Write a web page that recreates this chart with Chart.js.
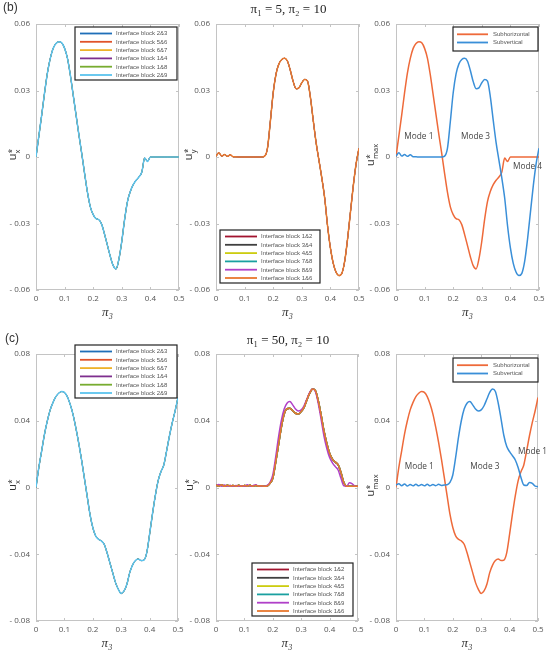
<!DOCTYPE html>
<html><head><meta charset="utf-8">
<script src="https://cdn.jsdelivr.net/npm/chart.js@4.4.1/dist/chart.umd.min.js"></script>
<style>
html,body{margin:0;padding:0;background:#fff;}
#wrap{position:relative;width:550px;height:652px;overflow:hidden;background:#fff;}
#wrap canvas{position:absolute;}
</style></head><body><div id="wrap"></div>
<script>
// ---------------- DATA ----------------
const pi3 = [0,0.01,0.02,0.03,0.04,0.05,0.06,0.07,0.08,0.09,
  0.10,0.11,0.12,0.13,0.14,0.15,0.16,0.17,0.18,0.19,
  0.20,0.21,0.22,0.23,0.24,0.25,0.26,0.27,0.28,0.29,
  0.30,0.31,0.32,0.33,0.34,0.35,0.36,0.37,0.38,0.39,
  0.40,0.41,0.42,0.43,0.44,0.45,0.46,0.47,0.48,0.49,0.50];
const xTicks = [0,0.1,0.2,0.3,0.4,0.5];
const yTicksB = [-0.06,-0.03,0,0.03,0.06];
const yTicksC = [-0.08,-0.04,0,0.04,0.08];

// (b) pi1 = 5, pi2 = 10
const uxPi5 = [0,0.0095,0.019,0.029,0.038,0.0445,0.049,0.0512,0.052,0.0515,
  0.049,0.0445,0.037,0.028,0.019,0.010,0.0015,-0.0075,-0.016,-0.0225,
  -0.026,-0.0278,-0.0283,-0.0305,-0.035,-0.040,-0.045,-0.049,-0.0505,-0.046,
  -0.038,-0.028,-0.020,-0.0155,-0.0125,-0.0105,-0.009,-0.0068,-0.0005,-0.002,
  0,0,0,0,0,0,0,0,0,0,0];
const uyPi5 = [0.0003,0.0019,0.0004,0.0011,0.0003,0.0010,0.0001,0.0001,0,0,
  0,0,0,0,0,0,0,0.0004,0.004,0.016,
  0.029,0.0375,0.042,0.0440,0.0445,0.0432,0.039,0.034,0.0308,0.0312,
  0.0335,0.0350,0.0342,0.027,0.0165,0.0065,-0.0015,-0.0095,-0.0185,-0.031,
  -0.041,-0.048,-0.052,-0.0535,-0.0525,-0.047,-0.037,-0.025,-0.013,-0.003,0.004];

// (c) pi1 = 50, pi2 = 10
const uxPi50 = [0,0.012,0.022,0.032,0.040,0.0465,0.051,0.0545,0.0565,0.0575,
  0.057,0.0545,0.050,0.044,0.036,0.027,0.017,0.006,-0.005,-0.016,
  -0.024,-0.029,-0.031,-0.032,-0.034,-0.039,-0.045,-0.051,-0.057,-0.061,
  -0.0635,-0.062,-0.058,-0.051,-0.0465,-0.0438,-0.0428,-0.0438,-0.0435,-0.039,
  -0.028,-0.016,-0.005,0.004,0.0095,0.0135,0.022,0.031,0.039,0.046,0.054];
const uyPi50 = [0.0015,0.0008,0.0016,0.0007,0.0014,0.0008,0.0012,0.0007,0.0013,0.0007,
  0.0012,0.0008,0.0013,0.0007,0.0012,0.0008,0.0010,0.0007,0.0009,0.0025,
  0.0055,0.015,0.0255,0.036,0.044,0.0472,0.0475,0.046,0.0445,0.044,
  0.0455,0.048,0.0525,0.0565,0.059,0.058,0.052,0.0435,0.034,0.0265,
  0.0205,0.017,0.0152,0.0135,0.009,0.003,0.0008,0.0008,0.0008,0.0008,0.0008];
const uyPi50b = [0.0012,0.0018,0.0008,0.0015,0.0008,0.0013,0.0007,0.0012,0.0008,0.0011,
  0.0007,0.0016,0.0008,0.0011,0.0017,0.0007,0.0009,0.0008,0.0012,0.003,
  0.0075,0.018,0.030,0.040,0.047,0.0505,0.0515,0.0495,0.047,0.0458,
  0.0465,0.049,0.053,0.057,0.059,0.0575,0.0505,0.041,0.031,0.0235,
  0.018,0.0148,0.0125,0.0105,0.0055,0.001,0.0008,0.0028,0.0022,0.0008,0.0008];
const uyMaxPi50 = [0.0015,0.0022,0.0010,0.0021,0.0009,0.0018,0.0010,0.0019,0.0010,0.0018,
  0.0010,0.0019,0.0010,0.0018,0.0011,0.0019,0.0012,0.0015,0.0016,0.003,
  0.0075,0.018,0.030,0.040,0.047,0.0505,0.0515,0.0495,0.047,0.0458,
  0.0465,0.049,0.053,0.057,0.059,0.0575,0.0505,0.041,0.031,0.0245,
  0.0215,0.019,0.0165,0.012,0.006,0.0015,0.0012,0.003,0.0025,0.0008,0.0005];

const namesX = ['Interface block 2&3','Interface block 5&6','Interface block 6&7','Interface block 1&4','Interface block 1&8','Interface block 2&9'];
const colorsX = ['#1f6fb8','#e0532a','#eeb22a','#7e2f8e','#77ac30','#5bc3ee'];
const namesY = ['Interface block 1&2','Interface block 3&4','Interface block 4&5','Interface block 7&8','Interface block 8&9','Interface block 1&6'];
const colorsY = ['#a2142f','#404040','#cccc10','#1aa0a0','#b040c8','#e8782e'];
const namesM = ['Subhorizontal','Subvertical'];
const colorsM = ['#ee6a3a','#3a8fd8'];

const modesB = [{t:'Mode 1',x:0.08,y:0.009,a:'center'},{t:'Mode 3',x:0.278,y:0.009,a:'center'},{t:'Mode 4',x:0.409,y:-0.0045,a:'left'}];
const modesC = [{t:'Mode 1',x:0.082,y:0.0123,a:'center'},{t:'Mode 3',x:0.313,y:0.0123,a:'center'},{t:'Mode 1',x:0.4296,y:0.0213,a:'left'}];

// ---------------- DRAWING ----------------
const wrap = document.getElementById('wrap');
const TICKFONT = '"Open Sans", "Noto Sans", sans-serif';

function fmtY(v){ const r = Math.round(v*100)/100; if (r === 0) return '0'; return r < 0 ? '- ' + Math.abs(r).toFixed(2) : r.toFixed(2); }
function fmtX(v){ const r = Math.round(v*10)/10; return r === 0 ? '0' : String(r); }

function drawULabel(ctx, cx, cy, sub){
  ctx.save();
  ctx.translate(cx, cy); ctx.rotate(-Math.PI/2);
  ctx.fillStyle = '#333';
  ctx.textAlign = 'left'; ctx.textBaseline = 'alphabetic';
  ctx.font = '11.5px "Noto Sans", sans-serif';
  const wu = ctx.measureText('u').width;
  ctx.font = '7.5px "Noto Sans", sans-serif';
  const ws = ctx.measureText(sub).width;
  const x0 = -(wu + ws)/2;
  ctx.font = '11.5px "Noto Sans", sans-serif';
  ctx.fillText('u', x0, 3);
  ctx.font = '8px "Noto Sans", sans-serif';
  ctx.fillText('*', x0 + wu + 0.3, 1.5);
  ctx.font = '7.5px "Noto Sans", sans-serif';
  ctx.fillText(sub, x0 + wu, 6.5);
  ctx.restore();
}

function makePanel(p){
  const c = document.createElement('canvas');
  const w = p.R - p.L + 50, h = p.B - p.T + 60;
  const offX = p.L - 36, offY = p.T - 24;
  c.width = w; c.height = h;
  c.style.left = offX + 'px'; c.style.top = offY + 'px';
  c.style.width = w + 'px'; c.style.height = h + 'px';
  wrap.appendChild(c);
  const n = p.series.length;
  const datasets = p.series.map((s, i) => ({
    label: s.name,
    data: pi3.map((x, j) => ({x: x, y: s.values[j]})),
    borderColor: s.color,
    borderWidth: (p.thinUnder && i < n - 1) ? 1.0 : 1.5,
    pointRadius: 0,
    fill: false,
    cubicInterpolationMode: 'monotone',
    order: n - i
  }));
  const plugin = {
    id: 'deco',
    beforeDatasetsDraw(chart){
      const {ctx, chartArea: a, scales: {x, y}} = chart;
      ctx.save();
      ctx.strokeStyle = '#c4c4c4'; ctx.lineWidth = 1;
      ctx.strokeRect(a.left + 0.5, a.top + 0.5, a.right - a.left - 1, a.bottom - a.top - 1);
      ctx.beginPath();
      x.ticks.forEach(t => { const px = Math.round(x.getPixelForValue(t.value)) + 0.5;
        ctx.moveTo(px, a.bottom); ctx.lineTo(px, a.bottom - 3);
        ctx.moveTo(px, a.top); ctx.lineTo(px, a.top + 3); });
      y.ticks.forEach(t => { const py = Math.round(y.getPixelForValue(t.value)) + 0.5;
        ctx.moveTo(a.left, py); ctx.lineTo(a.left + 3, py);
        ctx.moveTo(a.right, py); ctx.lineTo(a.right - 3, py); });
      ctx.stroke();
      ctx.restore();
    },
    afterDatasetsDraw(chart){
      const {ctx, chartArea: a, scales: {x, y}} = chart;
      ctx.save();
      // mode labels
      if (p.modes){
        ctx.font = '8.3px "Open Sans", sans-serif'; ctx.fillStyle = '#444'; ctx.textBaseline = 'middle';
        p.modes.forEach(m => { ctx.textAlign = m.a; ctx.fillText(m.t, x.getPixelForValue(m.x), y.getPixelForValue(m.y)); });
      }
      // legend
      const L = p.legend;
      const bx = a.left + L.dx, by = a.top + L.dy;
      ctx.fillStyle = '#fff';
      ctx.fillRect(bx, by, L.w, L.h);
      ctx.strokeStyle = '#222'; ctx.lineWidth = 1.2;
      ctx.strokeRect(bx, by, L.w, L.h);
      ctx.font = '6px "Liberation Sans", Arial, sans-serif';
      ctx.textAlign = 'left'; ctx.textBaseline = 'middle';
      p.series.forEach((s, i) => {
        const ry = by + L.r0 + i * L.gap;
        ctx.strokeStyle = s.color; ctx.lineWidth = 1.8;
        ctx.beginPath(); ctx.moveTo(bx + L.l0, ry); ctx.lineTo(bx + L.l1, ry); ctx.stroke();
        ctx.fillStyle = '#555';
        ctx.fillText(s.name, bx + L.t, ry + 0.3);
      });
      // axis titles
      drawULabel(ctx, p.ylabX - offX, (a.top + a.bottom)/2 - 2, p.ysub);
      ctx.fillStyle = '#333';
      ctx.font = 'italic 13px "Liberation Serif", serif';
      ctx.textAlign = 'center'; ctx.textBaseline = 'middle';
      ctx.fillText('π₃', (a.left + a.right)/2, a.bottom + 23);
      if (p.title){
        ctx.font = '13px "Liberation Serif", "DejaVu Serif", serif';
        ctx.fillStyle = '#222';
        ctx.fillText(p.title, (a.left + a.right)/2 + 1, p.titleY - offY);
      }
      if (p.tag){
        ctx.font = '12px "Liberation Sans", Arial, sans-serif';
        ctx.fillStyle = '#333'; ctx.textAlign = 'left';
        ctx.fillText(p.tag, p.tagX - offX, p.tagY - offY);
      }
      ctx.restore();
    }
  };
  new Chart(c, {
    type: 'line',
    data: {datasets},
    options: {
      responsive: false, animation: false, devicePixelRatio: 1,
      layout: {padding: {left: 0, top: 24, right: 14, bottom: 0}},
      plugins: {legend: {display: false}, tooltip: {enabled: false}, title: {display: false}},
      scales: {
        x: {type: 'linear', min: 0, max: 0.5,
          grid: {display: false, drawTicks: false}, border: {display: false},
          afterBuildTicks: s => { s.ticks = xTicks.map(v => ({value: v})); },
          afterFit: s => { s.height = 36; s.paddingLeft = 0; s.paddingRight = 0; },
          ticks: {font: {size: 8, family: TICKFONT}, color: '#555', padding: 4, maxRotation: 0, autoSkip: false, callback: fmtX}},
        y: {type: 'linear', min: p.yTicks[0], max: p.yTicks[p.yTicks.length-1],
          grid: {display: false, drawTicks: false}, border: {display: false},
          afterBuildTicks: s => { s.ticks = p.yTicks.map(v => ({value: v})); },
          afterFit: s => { s.width = 36; s.paddingTop = 0; s.paddingBottom = 0; },
          ticks: {font: {size: 8, family: TICKFONT}, color: '#555', padding: 6, autoSkip: false, callback: fmtY}}
      }
    },
    plugins: [plugin]
  });
}

const legBig = {r0: 6.5, gap: 8.3, l0: 5, l1: 37, t: 41, h: 53};
// (b) row
makePanel({L: 36, R: 179, T: 24, B: 290, yTicks: yTicksB, ysub: 'x', ylabX: 13, thinUnder: true,
  series: namesX.map((nm, i) => ({name: nm, color: colorsX[i], values: uxPi5})),
  legend: Object.assign({}, legBig, {dx: 39, dy: 3, w: 102}),
  tag: '(b)', tagX: 3, tagY: 8});
makePanel({L: 216, R: 359, T: 24, B: 290, yTicks: yTicksB, ysub: 'y', ylabX: 189, thinUnder: true,
  series: namesY.map((nm, i) => ({name: nm, color: colorsY[i], values: uyPi5})),
  legend: Object.assign({}, legBig, {dx: 4, dy: 206, w: 100}),
  title: 'π₁ = 5, π₂ = 10', titleY: 10});
makePanel({L: 396, R: 539, T: 24, B: 290, yTicks: yTicksB, ysub: 'max', ylabX: 371,
  series: [{name: namesM[0], color: colorsM[0], values: uxPi5}, {name: namesM[1], color: colorsM[1], values: uyPi5}],
  legend: {dx: 57, dy: 3, w: 85, h: 24, r0: 7.3, gap: 8.2, l0: 4, l1: 35, t: 40},
  modes: modesB});
// (c) row
makePanel({L: 36, R: 178, T: 354, B: 621, yTicks: yTicksC, ysub: 'x', ylabX: 13, thinUnder: true,
  series: namesX.map((nm, i) => ({name: nm, color: colorsX[i], values: uxPi50})),
  legend: Object.assign({}, legBig, {dx: 39, dy: -9, w: 102}),
  tag: '(c)', tagX: 5, tagY: 339});
makePanel({L: 216, R: 358, T: 354, B: 621, yTicks: yTicksC, ysub: 'y', ylabX: 190,
  series: namesY.map((nm, i) => ({name: nm, color: colorsY[i], values: (i === 4 ? uyPi50b : uyPi50)})),
  legend: Object.assign({}, legBig, {dx: 36, dy: 209, w: 101}),
  title: 'π₁ = 50, π₂ = 10', titleY: 341});
makePanel({L: 396, R: 538, T: 354, B: 621, yTicks: yTicksC, ysub: 'max', ylabX: 371,
  series: [{name: namesM[0], color: colorsM[0], values: uxPi50}, {name: namesM[1], color: colorsM[1], values: uyMaxPi50}],
  legend: {dx: 57, dy: 4, w: 85, h: 24, r0: 7.2, gap: 8.3, l0: 4, l1: 35, t: 40},
  modes: modesC});
</script></body></html>
